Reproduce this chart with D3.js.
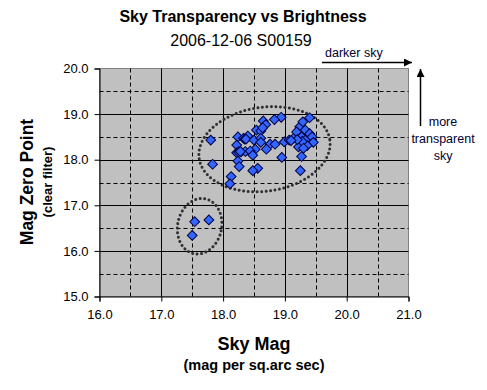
<!DOCTYPE html>
<html>
<head>
<meta charset="utf-8">
<script src="https://cdn.jsdelivr.net/npm/d3@7"></script>
<style>
  body { margin: 0; background: #fff; }
  text { font-family: "Liberation Sans", Arial, sans-serif; }
</style>
</head>
<body>
<svg id="chart" width="487" height="390"></svg>
<script>
// sky brightness (mag / sq.arc sec) and zero point magnitude
const skyMag = [
  17.54, 17.77, 17.50,
  17.80, 17.83, 18.13, 18.11,
  18.24, 18.22, 18.22, 18.25, 18.24, 18.26, 18.33, 18.29, 18.35, 18.36,
  18.94, 18.83, 18.65, 18.69, 18.54, 18.61, 18.64, 18.40, 18.37, 18.50, 18.61, 18.61,
  18.76, 18.84, 18.70, 18.52, 18.44, 18.28, 18.48, 18.95, 18.56, 18.48,
  18.99, 19.07, 19.14, 19.24, 19.29, 19.19, 19.27, 19.33, 19.22, 19.27, 19.25,
  19.40, 19.33, 19.40, 19.44, 19.46, 19.36, 19.28, 19.20, 19.30, 19.10
]
const zeroPoint = [
  16.64, 16.68, 16.34,
  18.43, 17.90, 17.63, 17.47,
  18.50, 18.32, 18.15, 18.17, 17.97, 17.85, 18.47, 18.17, 18.45, 18.18,
  18.93, 18.88, 18.85, 18.77, 18.65, 18.63, 18.70, 18.52, 18.45, 18.43, 18.47, 18.38,
  18.34, 18.34, 18.23, 18.23, 18.19, 18.18, 18.10, 18.05, 17.81, 17.76,
  18.39, 18.43, 18.47, 18.72, 18.83, 18.61, 18.50, 18.43, 18.28, 18.07, 17.76,
  18.92, 18.65, 18.57, 18.50, 18.38, 18.31, 18.40, 18.44, 18.25, 18.42
]
const xTicks = [16, 17, 18, 19, 20, 21]
const yTicks = [15, 16, 17, 18, 19, 20]
// groups circled on the chart: centre (data units), radii in px, tilt in degrees
const groupX = [18.67, 17.62]
const groupY = [18.23, 16.54]
const groupRx = [66, 22]
const groupRy = [42, 28]
const groupTilt = [-8, 12]

const svg = d3.select('#chart')
const pLeft = 99.5, pRight = 408.5, pTop = 68.5, pBottom = 296.5

const x = d3.scaleLinear().domain([16, 21]).range([pLeft, pRight])
const y = d3.scaleLinear().domain([15, 20]).range([pBottom, pTop])

svg.append('rect')
  .attr('x', pLeft).attr('y', pTop)
  .attr('width', pRight - pLeft).attr('height', pBottom - pTop)
  .attr('fill', '#c0c0c0')
  .attr('stroke', '#808080')

// grid: solid at whole magnitudes, dashed at halves
const halfX = d3.range(16.5, 21, 1)
const halfY = d3.range(15.5, 20, 1)
const grid = svg.append('g')
grid.selectAll('.vx').data(halfX).enter().append('line')
  .attr('x1', d => Math.round(x(d)) + 0.5).attr('x2', d => Math.round(x(d)) + 0.5)
  .attr('y1', pTop).attr('y2', pBottom)
  .attr('stroke', '#000').attr('stroke-dasharray', '4,3')
grid.selectAll('.hy').data(halfY).enter().append('line')
  .attr('y1', d => Math.round(y(d)) + 0.5).attr('y2', d => Math.round(y(d)) + 0.5)
  .attr('x1', pLeft).attr('x2', pRight)
  .attr('stroke', '#000').attr('stroke-dasharray', '4,3')
grid.selectAll('.vs').data(xTicks.slice(1, -1)).enter().append('line')
  .attr('x1', d => Math.round(x(d)) + 0.5).attr('x2', d => Math.round(x(d)) + 0.5)
  .attr('y1', pTop).attr('y2', pBottom)
  .attr('stroke', '#000')
grid.selectAll('.hs').data(yTicks.slice(1, -1)).enter().append('line')
  .attr('y1', d => Math.round(y(d)) + 0.5).attr('y2', d => Math.round(y(d)) + 0.5)
  .attr('x1', pLeft).attr('x2', pRight)
  .attr('stroke', '#000')

// axes
const xAxis = svg.append('g')
  .attr('transform', 'translate(0,' + pBottom + ')')
  .call(d3.axisBottom(x).tickValues(xTicks).tickFormat(d3.format('.1f')).tickSize(5).tickPadding(8))
const yAxis = svg.append('g')
  .attr('transform', 'translate(' + pLeft + ',0)')
  .call(d3.axisLeft(y).tickValues(yTicks).tickFormat(d3.format('.1f')).tickSize(5).tickPadding(6))
;[xAxis, yAxis].forEach(a => {
  a.select('.domain').attr('stroke', '#000')
  a.selectAll('text').attr('font-size', 13).attr('fill', '#000').style('font-family', 'Liberation Sans, Arial, sans-serif')
})

// circled groups
const groups = groupX.map((gx, i) => ({cx: x(gx), cy: y(groupY[i]), rx: groupRx[i], ry: groupRy[i], tilt: groupTilt[i]}))
svg.selectAll('.grp').data(groups).enter().append('ellipse')
  .attr('cx', 0).attr('cy', 0)
  .attr('rx', d => d.rx).attr('ry', d => d.ry)
  .attr('transform', d => 'translate(' + d.cx + ',' + d.cy + ') rotate(' + d.tilt + ')')
  .attr('fill', 'none')
  .attr('stroke', '#303030')
  .attr('stroke-width', 3)
  .attr('stroke-linecap', 'round')
  .attr('stroke-dasharray', '0,4.5')

// points as diamonds
const diamond = d3.symbol().type(d3.symbolSquare).size(48)
svg.selectAll('.pt').data(skyMag.map((m, i) => [m, zeroPoint[i]])).enter().append('path')
  .attr('d', diamond)
  .attr('transform', d => 'translate(' + x(d[0]) + ',' + y(d[1]) + ') rotate(45)')
  .attr('fill', '#3366ff')
  .attr('stroke', '#000040')
  .attr('stroke-width', 1)

// titles
svg.append('text').attr('x', 243).attr('y', 22).attr('text-anchor', 'middle')
  .attr('font-size', 16).attr('font-weight', 'bold').text('Sky Transparency vs Brightness')
svg.append('text').attr('x', 241).attr('y', 46).attr('text-anchor', 'middle')
  .attr('font-size', 16).text('2006-12-06 S00159')

svg.append('text').attr('x', 254).attr('y', 350).attr('text-anchor', 'middle')
  .attr('font-size', 18).attr('font-weight', 'bold').text('Sky Mag')
svg.append('text').attr('x', 254).attr('y', 370).attr('text-anchor', 'middle')
  .attr('font-size', 14.5).attr('font-weight', 'bold').text('(mag per sq.arc sec)')

svg.append('text').attr('transform', 'translate(33,182) rotate(-90)').attr('text-anchor', 'middle')
  .attr('font-size', 17.5).attr('font-weight', 'bold').text('Mag Zero Point')
svg.append('text').attr('transform', 'translate(52,182) rotate(-90)').attr('text-anchor', 'middle')
  .attr('font-size', 13).attr('font-weight', 'bold').text('(clear filter)')

// direction notes
svg.append('defs').append('marker')
  .attr('id', 'head').attr('viewBox', '0 0 10 10')
  .attr('refX', 10).attr('refY', 5)
  .attr('markerWidth', 10).attr('markerHeight', 8)
  .attr('markerUnits', 'userSpaceOnUse')
  .attr('orient', 'auto')
  .append('path').attr('d', 'M0,0L10,5L0,10Z').attr('fill', '#000')

svg.append('line').attr('x1', 322).attr('x2', 412).attr('y1', 62.5).attr('y2', 62.5)
  .attr('stroke', '#000').attr('stroke-width', 1.5).attr('marker-end', 'url(#head)')
svg.append('text').attr('x', 325).attr('y', 57).attr('font-size', 12.5).attr('fill', '#000033').text('darker sky')

svg.append('line').attr('x1', 420.5).attr('x2', 420.5).attr('y1', 126).attr('y2', 69)
  .attr('stroke', '#000').attr('stroke-width', 1.5).attr('marker-end', 'url(#head)')
const note = svg.append('text').attr('text-anchor', 'middle').attr('font-size', 12.5).attr('fill', '#000033')
;['more', 'transparent', 'sky'].forEach((t, i) => {
  note.append('tspan').attr('x', 443).attr('y', 126 + i * 17).text(t)
})
</script>
</body>
</html>
